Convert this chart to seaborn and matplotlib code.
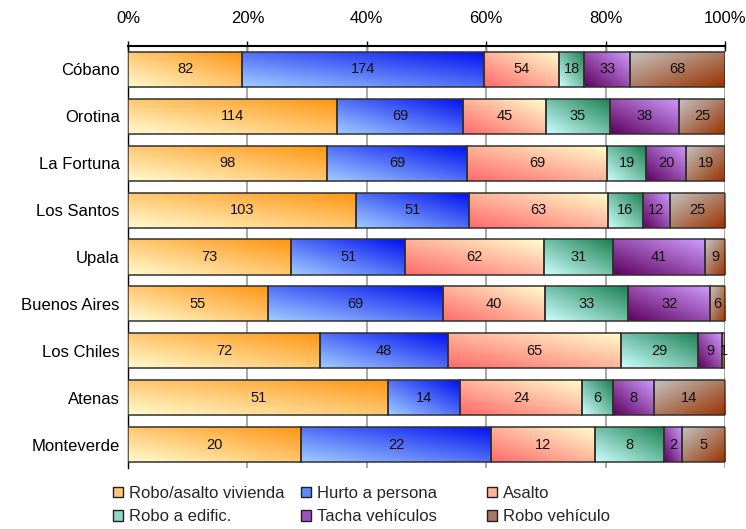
import numpy as np
import pandas as pd
import matplotlib
matplotlib.use('Agg')
import matplotlib.pyplot as plt
import matplotlib.colors as mcolors
from matplotlib.patches import Patch
import seaborn as sns

# datos
municipios = ['Cóbano', 'Orotina', 'La Fortuna', 'Los Santos', 'Upala',
              'Buenos Aires', 'Los Chiles', 'Atenas', 'Monteverde']
tipos = ['Robo/asalto vivienda', 'Hurto a persona', 'Asalto',
         'Robo a edific.', 'Tacha vehículos', 'Robo vehículo']
robo_vivienda = [82, 114, 98, 103, 73, 55, 72, 51, 20]
hurto_persona = [174, 69, 69, 51, 51, 69, 48, 14, 22]
asalto = [54, 45, 69, 63, 62, 40, 65, 24, 12]
robo_edific = [18, 35, 19, 16, 31, 33, 29, 6, 8]
tacha_vehiculos = [33, 38, 20, 12, 41, 32, 9, 8, 2]
robo_vehiculo = [68, 25, 19, 25, 9, 6, 1, 14, 5]

# colores del degradado (inicio, fin, direccion)
degradados = [
    ('#FFFBD0', '#FF9410', 'up'),
    ('#A0CCFF', '#0010F0', 'up'),
    ('#FF6A6A', '#FFFFCC', 'up'),
    ('#CCFFFF', '#1A8050', 'up'),
    ('#5E005E', '#D09CFF', 'up'),
    ('#C4C4C4', '#993300', 'down'),
]
colores_leyenda = ['#FFC878', '#5C8CFF', '#FFB49A', '#8ED8C4', '#9A55C0', '#A87868']

df = pd.DataFrame({'municipio': municipios,
                   tipos[0]: robo_vivienda, tipos[1]: hurto_persona,
                   tipos[2]: asalto, tipos[3]: robo_edific,
                   tipos[4]: tacha_vehiculos, tipos[5]: robo_vehiculo})
cuentas = df[tipos].to_numpy(dtype=float)
pct = cuentas / cuentas.sum(axis=1, keepdims=True) * 100
fin = pct.cumsum(axis=1)
inicio = fin - pct

sns.set_style('white')
plt.rcParams['font.family'] = ['Liberation Sans', 'DejaVu Sans']

fig = plt.figure(figsize=(7.46, 5.29), dpi=100)
ax = fig.add_axes([128 / 746, 1 - 468 / 529, 597 / 746, 422 / 529])


def degradado(c0, c1, direccion, n=40, m=160):
    u = np.linspace(0, 1, m)[None, :]
    v = np.linspace(1, 0, n)[:, None]  # fila 0 = arriba
    if direccion == 'up':
        t = (u + v) / 2
    else:
        t = (u + (1 - v)) / 2
    a = np.array(mcolors.to_rgb(c0))
    b = np.array(mcolors.to_rgb(c1))
    return a + (b - a) * t[..., None]


for i, tipo in enumerate(tipos):
    n0 = len(ax.patches)
    sns.barplot(x=fin[:, i], y=municipios, orient='h', width=0.75,
                color=colores_leyenda[i], saturation=1, errorbar=None, ax=ax)
    c0, c1, d = degradados[i]
    img = degradado(c0, c1, d)
    for j, p in enumerate(ax.patches[n0:]):
        p.set_x(inicio[j, i])
        p.set_width(pct[j, i])
        p.set_facecolor('none')
        p.set_edgecolor('#303030')
        p.set_linewidth(1.1)
        p.set_zorder(4)
        y0 = p.get_y()
        h = p.get_height()
        im = ax.imshow(img, extent=(inicio[j, i], fin[j, i], y0 + h, y0),
                       origin='upper', aspect='auto', zorder=3,
                       interpolation='bilinear')
        im.set_clip_path(p)
        ax.text(inicio[j, i] + pct[j, i] / 2, j, f'{int(cuentas[j, i])}',
                ha='center', va='center', fontsize=10.5, color='#111111', zorder=5)

ax.set_xlim(0, 100)
ax.set_ylim(8.5, -0.5)
ax.set_xlabel('')
ax.set_ylabel('')

# eje superior
ax.xaxis.tick_top()
ax.set_xticks([0, 20, 40, 60, 80, 100])
ax.set_xticklabels(['0%', '20%', '40%', '60%', '80%', '100%'])
ax.tick_params(axis='x', direction='inout', length=7, width=1, pad=11,
               labelsize=12, colors='black')
ax.set_yticks(range(len(municipios)))
ax.set_yticklabels(municipios)
ax.tick_params(axis='y', length=0, pad=6, labelsize=12, labelcolor='black')
ax.set_yticks(np.arange(-0.5, 9.0, 1), minor=True)
ax.tick_params(axis='y', which='minor', direction='out', length=5, width=1,
               color='black')

ax.grid(False)
for xv in [20, 40, 60, 80, 100]:
    ax.axvline(xv, color='#a0a0a0', lw=1.3, zorder=1)

for lado in ['bottom', 'right']:
    ax.spines[lado].set_visible(False)
ax.spines['top'].set_color('black')
ax.spines['top'].set_linewidth(1.5)
ax.spines['left'].set_color('black')
ax.spines['left'].set_linewidth(1)

# leyenda en tres columnas
columnas = [(0, 3), (1, 4), (2, 5)]
posx = [113, 301, 487]
for (a, b), x in zip(columnas, posx):
    handles = [Patch(facecolor=colores_leyenda[k], edgecolor='#202020', lw=1)
               for k in (a, b)]
    leg = fig.legend(handles, [tipos[a], tipos[b]], loc='upper left',
                     bbox_to_anchor=(x / 746, 1 - 486 / 529), frameon=False,
                     fontsize=12, handlelength=0.6, handleheight=0.6,
                     handletextpad=0.35, labelspacing=0.5, borderpad=0,
                     borderaxespad=0)

fig.savefig('out.png', dpi=100)
